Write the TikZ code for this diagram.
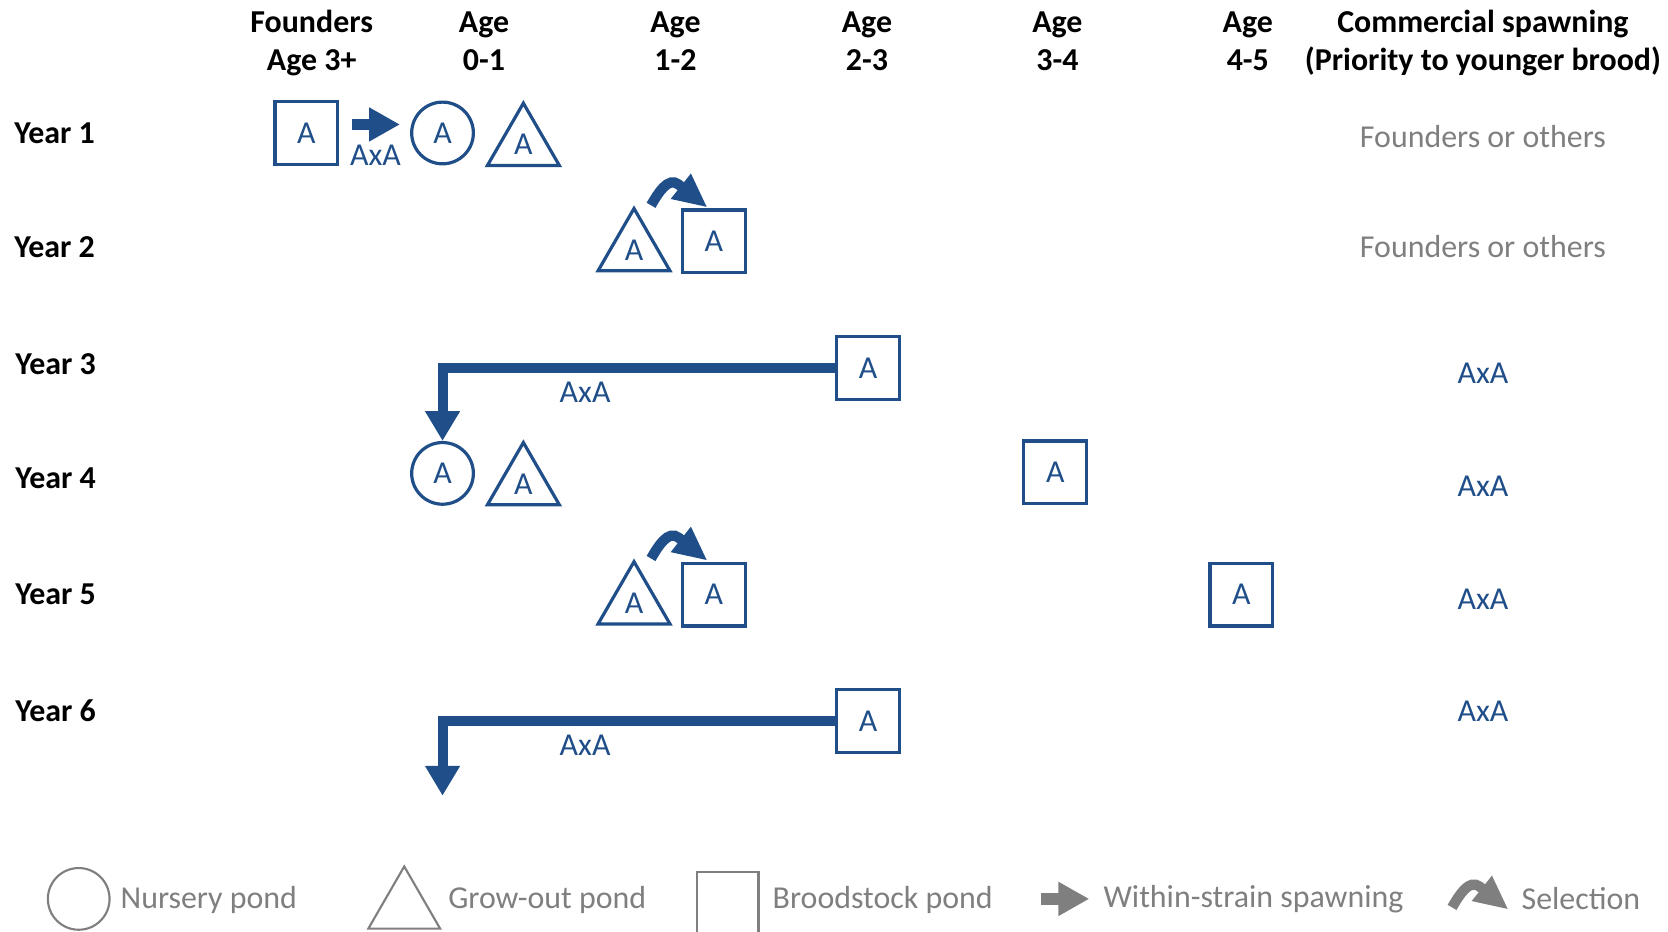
\documentclass[tikz,border=0pt]{standalone}
\usepackage{fontspec}
\setmainfont{Carlito}
\usepackage{tikz}
\usetikzlibrary{arrows.meta, shapes.geometric, backgrounds}
\pgfdeclarelayer{edgelayer}
\pgfdeclarelayer{nodelayer}
\pgfsetlayers{nodelayer,main,edgelayer}
\definecolor{pondblue}{RGB}{31,78,137}
\definecolor{legendgrey}{RGB}{127,127,127}
\tikzset{
	every node/.style={font=\fontsize{15}{18}\selectfont},
	header/.style={font=\fontsize{15}{18}\selectfont\bfseries, align=center},
	yearlabel/.style={font=\fontsize{15}{18}\selectfont\bfseries, anchor=west, inner sep=0pt},
	broodstock/.style={draw=pondblue, text=pondblue, line width=1.5pt, minimum size=29.5pt, inner sep=0pt},
	nursery/.style={circle, draw=pondblue, text=pondblue, line width=1.5pt, minimum size=29pt, inner sep=0pt},
	growout/.style={regular polygon, regular polygon sides=3, draw=pondblue, text=pondblue, line width=1.5pt, minimum size=39pt, inner sep=0pt},
	cross/.style={text=pondblue},
	commercial/.style={text=legendgrey},
	legendtext/.style={text=legendgrey, anchor=west, inner sep=0pt},
	spawn/.style={draw=pondblue, line width=5.5pt, -{Triangle[length=14.5pt, width=15pt]}},
	selection/.style={draw=pondblue, line width=4.8pt, -{Triangle[length=16pt, width=14pt]}},
	transfer/.style={draw=pondblue, line width=4.7pt, line join=miter, -{Triangle[length=14pt, width=15.5pt]}}
}
\begin{document}
\begin{tikzpicture}[x=50pt, y=50pt]
	\useasboundingbox (0, 0) rectangle (15.68, -8.76);
	\begin{pgfonlayer}{nodelayer}
		% headers
		\node [style=header] (0) at (2.93, -0.41) {\strut Founders\\\strut Age 3+};
		\node [style=header] (1) at (4.55, -0.41) {\strut Age\\\strut 0-1};
		\node [style=header] (2) at (6.35, -0.41) {\strut Age\\\strut 1-2};
		\node [style=header] (3) at (8.15, -0.41) {\strut Age\\\strut 2-3};
		\node [style=header] (4) at (9.94, -0.41) {\strut Age\\\strut 3-4};
		\node [style=header] (5) at (11.73, -0.41) {\strut Age\\\strut 4-5};
		\node [style=header] (6) at (13.94, -0.41) {\strut Commercial spawning\\\strut (Priority to younger brood)};
		\node [style=yearlabel] (7) at (0.13, -1.25) {Year 1};
		\node [style=yearlabel] (8) at (0.13, -2.32) {Year 2};
		\node [style=yearlabel] (9) at (0.14, -3.42) {Year 3};
		\node [style=yearlabel] (10) at (0.14, -4.50) {Year 4};
		\node [style=yearlabel] (11) at (0.14, -5.59) {Year 5};
		\node [style=yearlabel] (12) at (0.14, -6.68) {Year 6};
		% year 1
		\node [style=broodstock] (13) at (2.88, -1.25) {A};
		\coordinate (14) at (3.31, -1.17);
		\coordinate (15) at (3.76, -1.17);
		\node [style=cross] (16) at (3.53, -1.46) {AxA};
		\node [style=nursery] (17) at (4.16, -1.25) {A};
		\node [style=growout] (18) at (4.92, -1.36) {A};
		% year 2
		\node [style=growout] (19) at (5.96, -2.35) {A};
		\node [style=broodstock] (20) at (6.71, -2.27) {A};
		\coordinate (21) at (6.12, -1.93);
		\coordinate (22) at (6.65, -1.95);
		\coordinate (21a) at (6.38, -1.735);
		% year 3
		\node [style=broodstock] (23) at (8.16, -3.46) {A};
		\node [style=cross] (24) at (5.50, -3.69) {AxA};
		% year 4
		\node [style=nursery] (25) at (4.16, -4.45) {A};
		\node [style=growout] (26) at (4.92, -4.55) {A};
		\node [style=broodstock] (27) at (9.92, -4.44) {A};
		% year 5
		\node [style=growout] (28) at (5.96, -5.67) {A};
		\node [style=broodstock] (29) at (6.71, -5.59) {A};
		\coordinate (30) at (6.12, -5.25);
		\coordinate (31) at (6.65, -5.27);
		\coordinate (30a) at (6.38, -5.055);
		\node [style=broodstock] (32) at (11.67, -5.59) {A};
		% year 6
		\node [style=broodstock] (33) at (8.16, -6.78) {A};
		\node [style=cross] (34) at (5.50, -7.01) {AxA};
		\coordinate (35) at (4.16, -7.48);
		% commercial spawning
		\node [style=commercial] (36) at (13.94, -1.28) {Founders or others};
		\node [style=commercial] (37) at (13.94, -2.32) {Founders or others};
		\node [style=cross] (38) at (13.94, -3.51) {AxA};
		\node [style=cross] (39) at (13.94, -4.57) {AxA};
		\node [style=cross] (40) at (13.94, -5.63) {AxA};
		\node [style=cross] (41) at (13.94, -6.69) {AxA};
		% legend
		\node [style=nursery, draw=legendgrey, line width=1pt] (42) at (0.74, -8.45) {};
		\node [style=legendtext] (43) at (1.13, -8.46) {Nursery pond};
		\node [style=growout, draw=legendgrey, line width=1pt] (44) at (3.80, -8.535) {};
		\node [style=legendtext] (45) at (4.21, -8.46) {Grow-out pond};
		\node [style=legendtext] (46) at (7.26, -8.46) {Broodstock pond};
		\coordinate (47) at (9.79, -8.45);
		\coordinate (48) at (10.24, -8.45);
		\node [style=legendtext] (49) at (10.37, -8.45) {Within-strain spawning};
		\coordinate (50) at (13.65, -8.53);
		\coordinate (51) at (14.18, -8.55);
		\coordinate (50a) at (13.91, -8.335);
		\node [style=legendtext] (52) at (14.30, -8.45) {Selection};
	\end{pgfonlayer}
	\begin{pgfonlayer}{edgelayer}
		\draw [style=spawn] (14) to (15);
		\draw [style=selection] (21) to [out=60, in=141] (21a) -- (22);
		\draw [style=transfer] (23.west) -| (25.north);
		\draw [style=selection] (30) to [out=60, in=141] (30a) -- (31);
		\draw [style=transfer] (33.west) -| (35);
		\draw [style=spawn, draw=legendgrey] (47) to (48);
		\draw [style=selection, draw=legendgrey] (50) to [out=60, in=141] (50a) -- (51);
		\draw [draw=legendgrey, line width=1pt] (6.55, -8.80) |- (7.13, -8.20) -- (7.13, -8.80);
	\end{pgfonlayer}
\end{tikzpicture}
\end{document}
